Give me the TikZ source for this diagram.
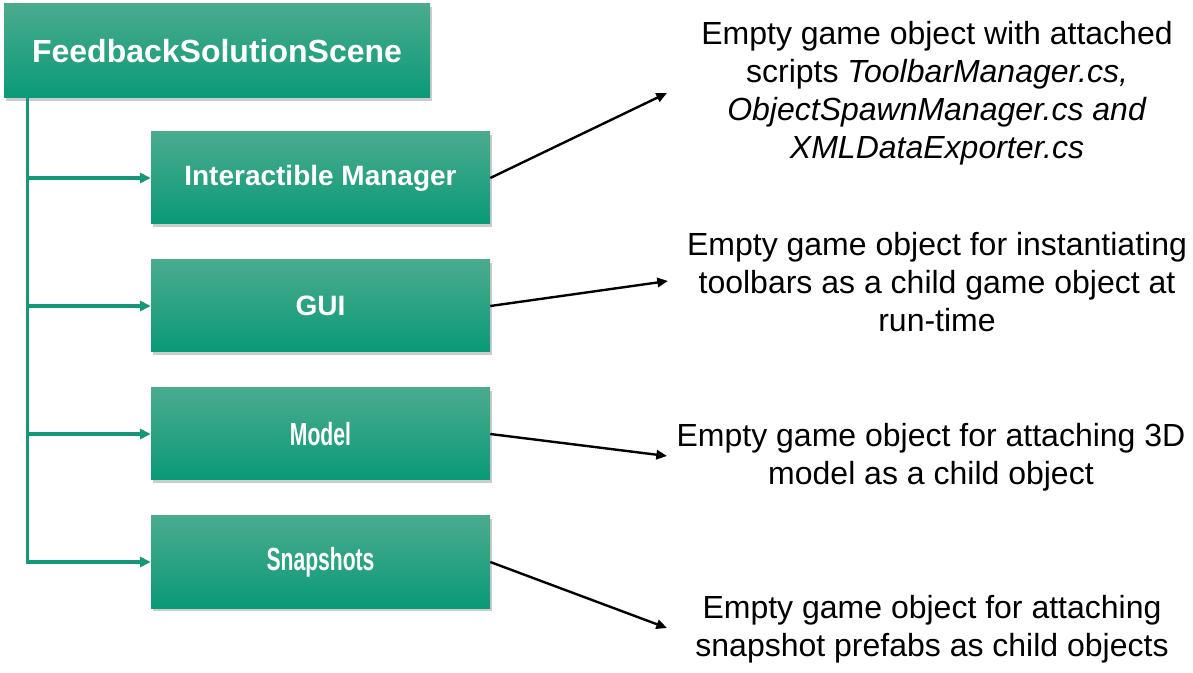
\documentclass[tikz,border=0pt]{standalone}
\usepackage{fontspec}
\setmainfont{Liberation Sans}
\usetikzlibrary{positioning,shadows,arrows.meta}
\usepackage{xcolor}
\definecolor{boxtop}{RGB}{74,171,141}
\definecolor{boxbottom}{RGB}{10,154,120}
\definecolor{branch}{RGB}{22,152,120}
\newcommand{\narrow}[1]{{\fontsize{24}{28}\selectfont\scalebox{0.66}[1]{#1}}}

\begin{document}
\begin{tikzpicture}[x=0.75pt, y=-0.75pt, node distance=96pt,
  box/.style = {rectangle, inner sep=0pt, top color=boxtop, bottom color=boxbottom, text=white,
    drop shadow={shadow xshift=1.5pt, shadow yshift=-2pt, fill=black!40, opacity=0.5}},
  scene/.style = {box, minimum width=319.5pt, minimum height=70.5pt, font=\fontsize{24}{28}\selectfont\bfseries},
  child/.style = {box, minimum width=254.25pt, minimum height=69pt, font=\fontsize{21}{25}\selectfont\bfseries},
  note/.style = {align=center, font=\fontsize{24}{28.5}\selectfont},
  branch/.style = {draw=branch, line width=2.3pt, -{Triangle[length=8pt,width=7.5pt]}},
  link/.style = {draw=black, line width=1.8pt, -{Triangle[length=8pt,width=7pt]}}]
		\useasboundingbox (0,0) rectangle (1193,673);
		\node[scene] (scene) at (217,51) {FeedbackSolutionScene};
		\node[child] (im) at (320.5,178) {Interactible Manager};
		\node[child] (gui) [below of=im] {GUI};
		\node[child] (model) [below of=gui] {\narrow{Model}};
		\node[child] (snap) [below of=model] {\narrow{Snapshots}};
		\foreach \n in {im,gui,model,snap}
			\draw[branch] ([xshift=18pt]scene.south west) |- (\n.west);
		\coordinate (imend) at (667,93);
		\coordinate (guiend) at (668,281);
		\coordinate (modelend) at (667,456);
		\coordinate (snapend) at (667,628);
		\node[note] (imnote) at (937,93) {Empty game object with attached\\scripts \textit{ToolbarManager.cs,}\\\textit{ObjectSpawnManager.cs and}\\\textit{XMLDataExporter.cs}};
		\node[note] (guinote) at (937,282) {Empty game object for instantiating\\toolbars as a child game object at\\run-time};
		\node[note] (modelnote) at (931,457) {Empty game object for attaching 3D\\model as a child object};
		\node[note] (snapnote) at (932,629) {Empty game object for attaching\\snapshot prefabs as child objects};
		\draw[link] (im.east) -- (imend);
		\draw[link] (gui.east) -- (guiend);
		\draw[link] (model.east) -- (modelend);
		\draw[link] (snap.east) -- (snapend);
	\end{tikzpicture}
\end{document}
